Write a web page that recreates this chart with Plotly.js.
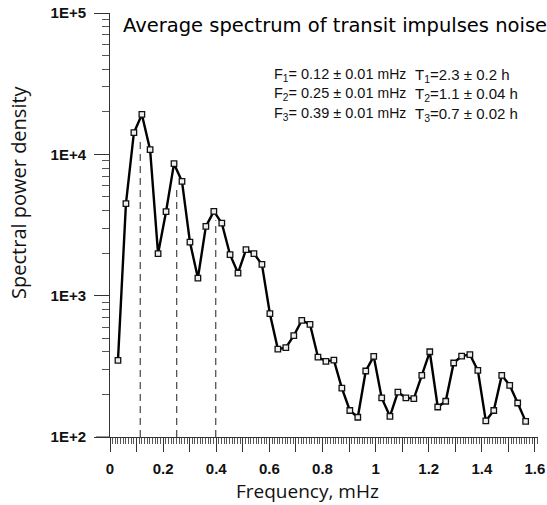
<!DOCTYPE html>
<html>
<head>
<meta charset="utf-8">
<script src="https://cdn.plot.ly/plotly-3.0.1.min.js"></script>
<style>html,body{margin:0;padding:0;background:#fff;}#chart{width:547px;height:505px;}</style>
</head>
<body>
<div id="chart"></div>
<script>
const freq = [0.030,0.060,0.090,0.120,0.151,0.181,0.211,0.241,0.271,0.301,0.331,0.361,0.391,0.421,0.452,0.482,0.512,0.542,0.572,0.602,0.632,0.662,0.692,0.722,0.753,0.783,0.813,0.843,0.873,0.903,0.933,0.963,0.993,1.023,1.054,1.084,1.114,1.144,1.174,1.204,1.234,1.264,1.294,1.324,1.355,1.385,1.415,1.445,1.475,1.505,1.535,1.565];
const psd = [348,4475,14220,19150,10790,1982,3927,8590,6430,2393,1332,3090,3947,3260,1950,1445,2115,1982,1665,746,419,429,521,669,627,368,343,350,222,154,138,293,372,189,140,208,189,187,273,401,163,179,334,374,383,296,130,154,273,232,174,129];
const peakFreq = [0.114, 0.251, 0.398];
const peakTop = [12540, 6030, 3410];
const xTickVals = [0,0.1,0.2,0.3,0.4,0.5,0.6,0.7,0.8,0.9,1.0,1.1,1.2,1.3,1.4,1.5,1.6];
const xTickText = ['0','','0.2','','0.4','','0.6','','0.8','','1','','1.2','','1.4','','1.6'];
const yTickVals = [100,1000,10000,100000];
const yTickText = ['1E+2','1E+3','1E+4','1E+5'];
const titleText = 'Average spectrum of transit impulses noise';
const fLines = ['F<sub>1</sub>= 0.12 ± 0.01 <span style="font-size:14px">mHz</span>',
                'F<sub>2</sub>= 0.25 ± 0.01 <span style="font-size:14px">mHz</span>',
                'F<sub>3</sub>= 0.39 ± 0.01 <span style="font-size:14px">mHz</span>'];
const tLines = ['T<sub>1</sub>=2.3 ± 0.2 h','T<sub>2</sub>=1.1 ± 0.04 h','T<sub>3</sub>=0.7 ± 0.02 h'];

const traces = [];
for (let i = 0; i < peakFreq.length; i++) {
  traces.push({x:[peakFreq[i],peakFreq[i]], y:[100, peakTop[i]], mode:'lines',
    line:{color:'#555', width:1.3, dash:'7px,5px'}, hoverinfo:'skip', showlegend:false});
}
traces.push({x:freq, y:psd, mode:'lines+markers', showlegend:false,
  line:{color:'#000', width:2.4},
  marker:{symbol:'square', size:5.5, color:'#eee', line:{color:'#111', width:1.3}}});

const rowY = [0.8527, 0.808, 0.761];
const annotations = [
  {text:titleText, xref:'paper', yref:'paper', x:0.5257, y:0.9705, xanchor:'center', yanchor:'middle', showarrow:false, borderpad:0,
   font:{family:'DejaVu Sans', size:19.5, color:'#000'}},
  {text:'Frequency, mHz', xref:'paper', yref:'paper', x:0.4614, y:-0.128, xanchor:'center', yanchor:'middle', showarrow:false, borderpad:0,
   font:{family:'Open Sans', size:19, color:'#111'}},
  {text:'Spectral power density', xref:'paper', yref:'paper', x:-0.2126, y:0.5757, xanchor:'center', yanchor:'middle', showarrow:false, textangle:-90,
   font:{family:'Open Sans', size:20, color:'#111'}}
];
for (let i = 0; i < 3; i++) {
  annotations.push({text:fLines[i], xref:'paper', yref:'paper', x:0.3785, y:rowY[i], xanchor:'left', yanchor:'middle', showarrow:false,
    font:{family:'Liberation Sans', size:14.5, color:'#111'}});
  annotations.push({text:tLines[i], xref:'paper', yref:'paper', x:0.708, y:rowY[i], xanchor:'left', yanchor:'middle', showarrow:false,
    font:{family:'Liberation Sans', size:15, color:'#111'}});
}

const layout = {
  width:547, height:505,
  margin:{l:110, r:9, t:12.5, b:68.3},
  paper_bgcolor:'#fff', plot_bgcolor:'#fff',
  xaxis:{range:[0,1.6115], showgrid:false, zeroline:false, showline:true, linecolor:'#333', linewidth:1,
    tickmode:'array', tickvals:xTickVals, ticktext:xTickText, ticks:'outside', ticklen:14, tickcolor:'#333', tickwidth:1,
    ticklabelstandoff:4,
    minor:{tickmode:'linear', tick0:0, dtick:0.01, ticks:'outside', ticklen:6, tickcolor:'#555', tickwidth:1, showgrid:false},
    tickfont:{family:'Liberation Sans', size:15, color:'#111', weight:'bold'}},
  yaxis:{type:'log', range:[2,5], showgrid:false, zeroline:false, showline:true, linecolor:'#333', linewidth:1,
    tickmode:'array', tickvals:yTickVals, ticktext:yTickText, ticks:'outside', ticklen:15, tickcolor:'#333', tickwidth:1,
    ticklabelstandoff:5,
    minor:{dtick:'D1', ticks:'outside', ticklen:7, tickcolor:'#555', tickwidth:1, showgrid:false},
    tickfont:{family:'Liberation Sans', size:15, color:'#111', weight:'bold'}},
  shapes:[{type:'line', xref:'paper', yref:'paper', x0:-0.033, x1:0, y0:0, y1:0, line:{color:'#333', width:1}}],
  annotations:annotations
};
Plotly.newPlot('chart', traces, layout, {displayModeBar:false, staticPlot:true});
</script>
</body>
</html>
